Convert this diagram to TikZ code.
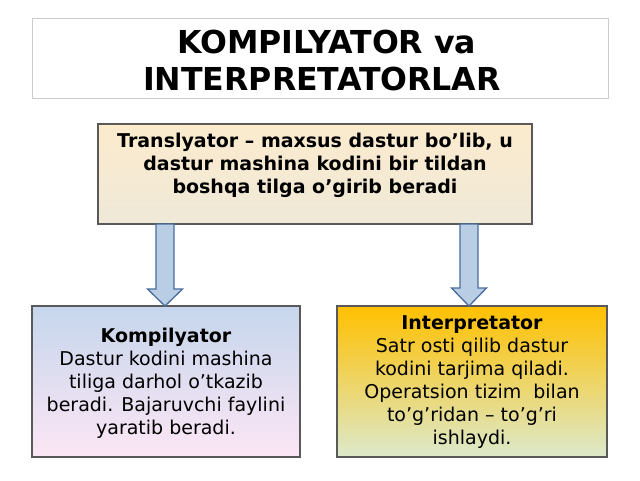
\documentclass[tikz,border=0pt]{standalone}
\usepackage{fontspec}
\setmainfont{DejaVu Sans}
\begin{document}
\begin{tikzpicture}[x=1pt,y=-1pt,
  boxline/.style={draw=black!65,line width=1.2pt},
  blockarrow/.style={draw=arrowline,fill=arrowfill,line width=1.3pt,line join=miter},
  bodytext/.style={inner sep=0pt,align=center,font=\fontsize{19}{23}\selectfont},
  titletext/.style={inner sep=0pt,anchor=base west,font=\fontsize{31.6}{37}\selectfont\bfseries}]
\definecolor{arrowfill}{HTML}{B9CDE5}
\definecolor{arrowline}{HTML}{4A6D9C}
\definecolor{transtop}{HTML}{FCEBCD}
\definecolor{transbot}{HTML}{EFE9D8}
\definecolor{komptop}{HTML}{C6D6EC}
\definecolor{kompbot}{HTML}{FCE6F5}
\definecolor{inttop}{HTML}{FFC000}
\definecolor{intbot}{HTML}{DCE9CC}
\useasboundingbox[fill=white] (0,0) rectangle (640,480);
% title
\draw[draw=black!20,line width=1pt,fill=white] (32,18) rectangle (608,98);
\node[titletext] (title1) at (177,53) {KOMPILYATOR va};
\node[titletext] (title2) at (143,90) {INTERPRETATORLAR};
% translator box
\draw[boxline,top color=transtop,bottom color=transbot] (98,124) rectangle (532,224);
\coordinate (transS1) at (165,224);
\coordinate (transS2) at (469,224);
\node[bodytext,anchor=north,font=\fontsize{19}{23}\selectfont\bfseries] (trans) at (315,132.6)
  {Translyator – maxsus dastur bo’lib, u\\dastur mashina kodini bir tildan\\boshqa tilga o’girib beradi};
% bottom boxes
\draw[boxline,top color=komptop,bottom color=kompbot] (32,306) rectangle (300,457);
\coordinate (kompN) at (165,306);
\node[bodytext,anchor=north] (komp) at (166,327.6)
  {\textbf{Kompilyator}\\Dastur kodini mashina\\tiliga darhol o’tkazib\\beradi. Bajaruvchi faylini\\yaratib beradi.};
\draw[boxline,top color=inttop,bottom color=intbot] (337,306) rectangle (607,457);
\coordinate (intN) at (469,306);
\node[bodytext,anchor=north] (int) at (472,315.6)
  {\textbf{Interpretator}\\Satr osti qilib dastur\\kodini tarjima qiladi.\\Operatsion tizim~ bilan\\to’g’ridan – to’g’ri\\ishlaydi.};
% block arrows
\draw[blockarrow] ([xshift=-9pt]transS1) -- ([xshift=9pt]transS1) -- ([xshift=9pt,yshift=-65pt]transS1)
  -- ([xshift=17.5pt,yshift=-65pt]transS1) -- (kompN) -- ([xshift=-17.5pt,yshift=-65pt]transS1)
  -- ([xshift=-9pt,yshift=-65pt]transS1) -- cycle;
\draw[blockarrow] ([xshift=-9pt]transS2) -- ([xshift=9pt]transS2) -- ([xshift=9pt,yshift=-64pt]transS2)
  -- ([xshift=17.5pt,yshift=-64pt]transS2) -- (intN) -- ([xshift=-17.5pt,yshift=-64pt]transS2)
  -- ([xshift=-9pt,yshift=-64pt]transS2) -- cycle;
\end{tikzpicture}
\end{document}
